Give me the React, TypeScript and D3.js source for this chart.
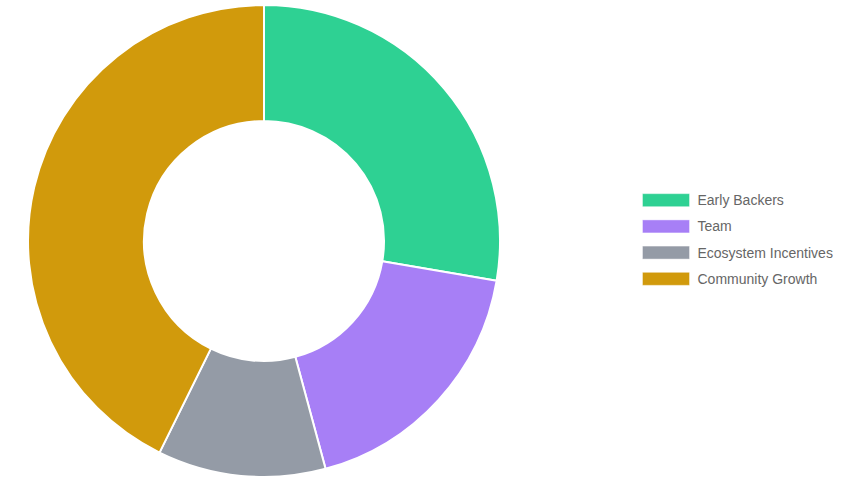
import React from "react";
import * as d3 from "d3";

const categories = ["Early Backers", "Team", "Ecosystem Incentives", "Community Growth"];
const values = [27.7, 18.1, 11.5, 42.7];
const colors = ["#2ed193", "#a77ff6", "#949ba6", "#d19a0c"];

export default function App() {
  const width = 858;
  const height = 482;
  const cx = 264;
  const cy = 241;
  const outerR = 236;
  const innerR = 120;
  const pie = d3.pie<number>().sort(null).value((d) => d)(values);
  const arc = d3.arc<d3.PieArcDatum<number>>().innerRadius(innerR).outerRadius(outerR);
  const legendY = d3.scaleBand<string>().domain(categories).range([187, 292]);
  return (
    <svg width={width} height={height} style={{ position: "absolute", left: 0, top: 0, display: "block" }}>
      <g transform={`translate(${cx},${cy})`}>
        {pie.map((p, i) => (
          <path key={i} d={arc(p) || ""} fill={colors[i]} stroke="#fff" strokeWidth={2} strokeLinejoin="round" />
        ))}
      </g>
      {categories.map((c, i) => {
        const y = (legendY(c) || 0) + legendY.bandwidth() / 2;
        return (
          <g key={c}>
            <rect x={643} y={y - 6} width={46} height={12} fill={colors[i]} stroke={colors[i]} strokeOpacity={0.6} strokeWidth={1} />
            <text x={697.5} y={y} dy="0.36em" fontFamily="Liberation Sans, Arial, sans-serif" fontSize={14} fill="#666">{c}</text>
          </g>
        );
      })}
    </svg>
  );
}
